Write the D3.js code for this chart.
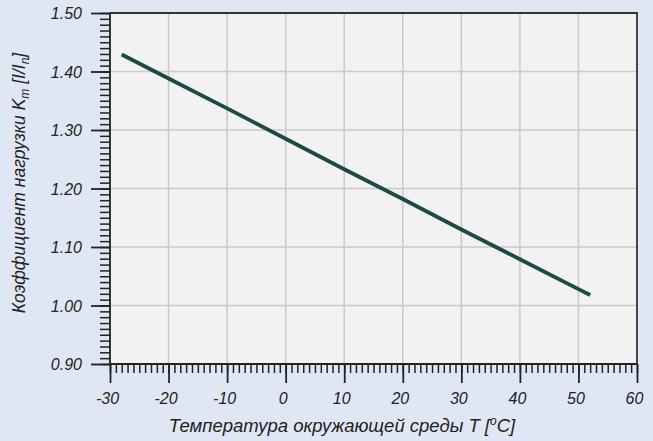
<!DOCTYPE html>
<html><head><meta charset="utf-8">
<script src="https://cdn.jsdelivr.net/npm/d3@7"></script>
<style>
html,body{margin:0;padding:0;background:#e0e7f4;}
svg{display:block;font-family:"Liberation Sans",Arial,sans-serif;font-style:italic;}
</style></head>
<body>
<svg id="c" width="653" height="441"></svg>
<script>
// Data
const temperatures = [-28, -20, -10, 0, 10, 20, 30, 40, 50, 52];
const kFactor = [1.429, 1.388, 1.337, 1.285, 1.233, 1.182, 1.130, 1.079, 1.028, 1.018];
const xTicks = [-30, -20, -10, 0, 10, 20, 30, 40, 50, 60];
const yTicks = [0.90, 1.00, 1.10, 1.20, 1.30, 1.40, 1.50];
const xTitle = "Температура окружающей среды T [";
const yTitle = "Коэффициент нагрузки K";

const svg = d3.select("#c");
const W = 653, H = 441;
const L = 110, R = 637, T = 13, B = 364;
const x = d3.scaleLinear().domain([-30, 60]).range([L, R]);
const y = d3.scaleLinear().domain([0.90, 1.50]).range([B, T]);
const FONT = "'Liberation Sans', Arial, sans-serif";

svg.append("rect").attr("width", W).attr("height", H).attr("fill", "#e0e7f4");
svg.append("rect").attr("x", L).attr("y", T).attr("width", R - L).attr("height", B - T).attr("fill", "#f2f2f2");

// grid
const g = svg.append("g");
g.selectAll("line.vx").data(xTicks.filter(d => d > -30 && d < 60)).join("line")
  .attr("x1", d => x(d)).attr("x2", d => x(d)).attr("y1", T).attr("y2", B)
  .attr("stroke", "#c9c9c9").attr("stroke-width", 1.5);
g.selectAll("line.hy").data(yTicks.filter(d => d > 0.9 && d < 1.5)).join("line")
  .attr("y1", d => y(d)).attr("y2", d => y(d)).attr("x1", L).attr("x2", R)
  .attr("stroke", "#c9c9c9").attr("stroke-width", 1.5);

// border top/right
svg.append("path").attr("d", `M${L},${T}H${R}V${B}`).attr("fill", "none").attr("stroke", "#333").attr("stroke-width", 1.8);

// x axis minor
const xMinor = d3.range(-30, 61, 1);
const gxm = svg.append("g").attr("transform", `translate(0,${B})`)
  .call(d3.axisBottom(x).tickValues(xMinor).tickSize(9).tickFormat(""));
gxm.select(".domain").remove();
gxm.selectAll("line").attr("stroke", "#222").attr("stroke-width", 1.5);
const gx = svg.append("g").attr("transform", `translate(0,${B})`)
  .call(d3.axisBottom(x).tickValues(xTicks).tickSize(19).tickFormat(d => d));
gx.select(".domain").remove();
gx.selectAll("line").attr("stroke", "#222").attr("stroke-width", 1.8);
gx.selectAll("text").attr("y", 0).attr("dy", 0).attr("transform", "translate(-3,40)")
  .attr("font-size", 16).attr("fill", "#222").attr("font-style", "italic")
  .style("font-family", FONT);

// y axis minor
const yMinor = d3.range(90, 151, 1).map(v => v / 100);
const gym = svg.append("g").attr("transform", `translate(${L},0)`)
  .call(d3.axisLeft(y).tickValues(yMinor).tickSize(10).tickFormat(""));
gym.select(".domain").remove();
gym.selectAll("line").attr("stroke", "#222").attr("stroke-width", 1.5);
const gy = svg.append("g").attr("transform", `translate(${L},0)`)
  .call(d3.axisLeft(y).tickValues(yTicks).tickSize(19).tickFormat(d3.format(".2f")));
gy.select(".domain").remove();
gy.selectAll("line").attr("stroke", "#222").attr("stroke-width", 1.8);
gy.selectAll("text").attr("x", -28).attr("dy", "0.35em")
  .attr("font-size", 16).attr("fill", "#222").attr("font-style", "italic")
  .style("font-family", FONT);

// axis lines
svg.append("path").attr("d", `M${L},${T}V${B}H${R}`).attr("fill", "none").attr("stroke", "#222").attr("stroke-width", 1.8);

// data line
const line = d3.line().x((d, i) => x(temperatures[i])).y(d => y(d));
svg.append("path").datum(kFactor).attr("d", line)
  .attr("fill", "none").attr("stroke", "#1d4a47").attr("stroke-width", 3.8);

// titles
const xt = svg.append("text").attr("x", 342).attr("y", 432).attr("text-anchor", "middle")
  .attr("font-size", 18.5).attr("fill", "#222");
xt.append("tspan").text(xTitle);
xt.append("tspan").attr("font-size", 12).attr("dy", -7).text("o");
xt.append("tspan").attr("dy", 7).text("C]");

const yt = svg.append("text").attr("transform", "translate(25,183) rotate(-90)").attr("text-anchor", "middle")
  .attr("font-size", 17.5).attr("fill", "#222");
yt.append("tspan").text(yTitle);
yt.append("tspan").attr("font-size", 12).attr("dy", 4).text("m");
yt.append("tspan").attr("dy", -4).text(" [I/I");
yt.append("tspan").attr("font-size", 12).attr("dy", 4).text("n");
yt.append("tspan").attr("dy", -4).text("]");
</script>
</body></html>
